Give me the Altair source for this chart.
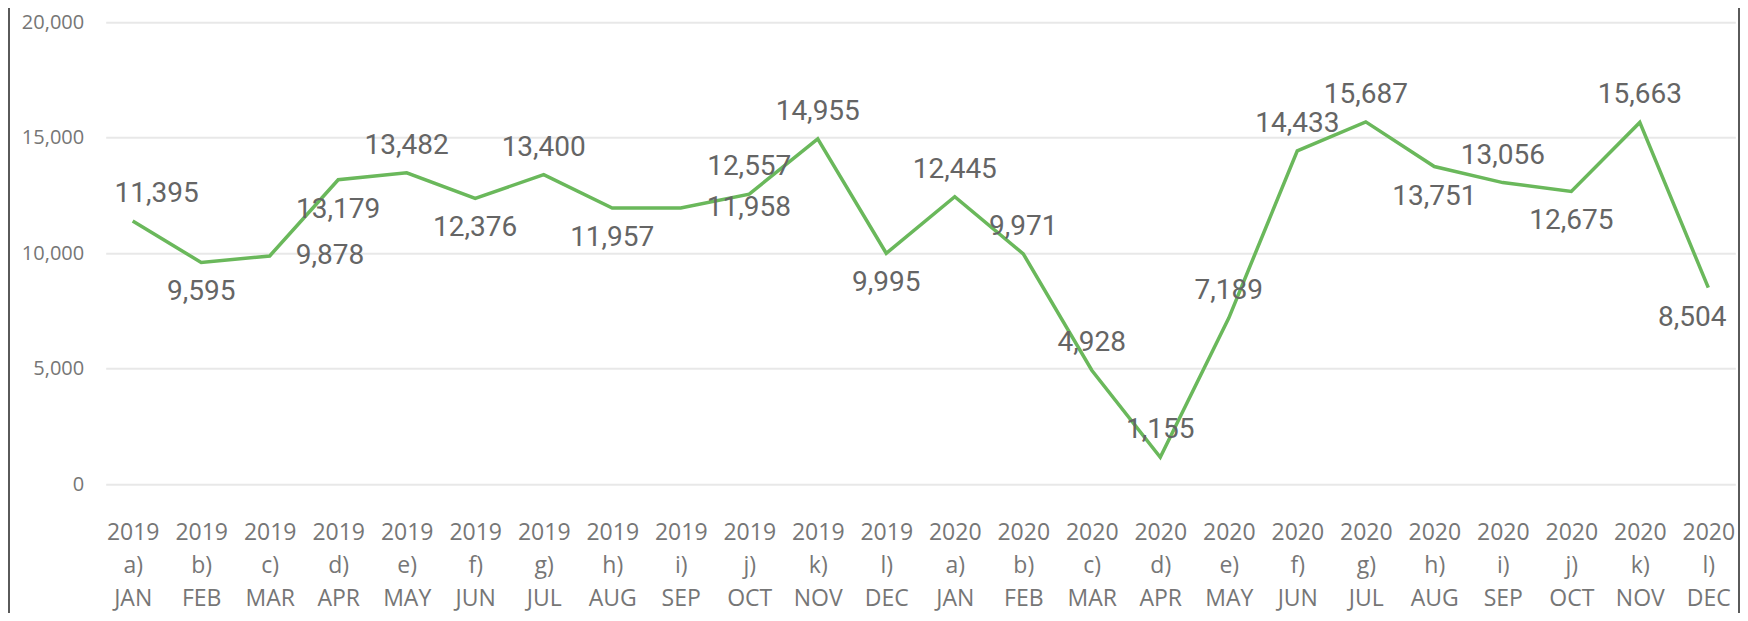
import altair as alt
import pandas as pd

years = ["2019"] * 12 + ["2020"] * 12
letters = ["a)", "b)", "c)", "d)", "e)", "f)", "g)", "h)", "i)", "j)", "k)", "l)"] * 2
months = ["JAN", "FEB", "MAR", "APR", "MAY", "JUN", "JUL", "AUG", "SEP", "OCT", "NOV", "DEC"] * 2
values = [11395, 9595, 9878, 13179, 13482, 12376, 13400, 11957, 11958, 12557, 14955, 9995,
          12445, 9971, 4928, 1155, 7189, 14433, 15687, 13751, 13056, 12675, 15663, 8504]
y_ticks = [0, 5000, 10000, 15000, 20000]
# data-label placement relative to its point
placement = ["above", "below", "right", "below", "above", "below", "above", "below", "right", "above", "above", "below",
             "above", "above", "above", "above", "above", "above", "above", "below", "above", "below", "above", "below"]

df = pd.DataFrame({
    "cat": [f"{y}|{l}|{m}" for y, l, m in zip(years, letters, months)],
    "v": values,
    "pos": placement,
    "i": list(range(len(values))),
})

LABEL_FONT = "Open Sans"
LABEL_COLOR = "#767676"
DATA_FONT = "Roboto"
DATA_COLOR = "#656565"
GREEN = "#6ab85b"

x_enc = alt.X(
    "cat:N", sort=None,
    scale=alt.Scale(type="point", padding=0.394),
    axis=alt.Axis(
        title=None, labelExpr="split(datum.label, '|')", labelAngle=0,
        labelFont=LABEL_FONT, labelFontSize=23, labelColor=LABEL_COLOR,
        labelLineHeight=33, labelBaseline="middle", labelAlign="center",
        labelPadding=48, ticks=False, domain=False, grid=False,
        labelOverlap=False, labelBound=False,
    ),
)
y_enc = alt.Y(
    "v:Q",
    scale=alt.Scale(domain=[0, 20000], nice=False),
    axis=alt.Axis(values=y_ticks, title=None, labelExpr="format(datum.value, ',')"),
)

base = alt.Chart(df).encode(x=x_enc, y=y_enc)

line = base.mark_line(color=GREEN, strokeWidth=3.5)

text_kw = dict(font=DATA_FONT, fontSize=28, color=DATA_COLOR, baseline="middle")
txt = alt.Text("v:Q", format=",")

above = base.transform_filter("datum.pos == 'above' && datum.i != 0").mark_text(dy=-27, **text_kw).encode(text=txt)
above_first = base.transform_filter("datum.pos == 'above' && datum.i == 0").mark_text(dy=-27, dx=24, **text_kw).encode(text=txt)
below = base.transform_filter("datum.pos == 'below' && datum.i != 23").mark_text(dy=30, **text_kw).encode(text=txt)
below_last = base.transform_filter("datum.pos == 'below' && datum.i == 23").mark_text(dy=30, dx=-16, **text_kw).encode(text=txt)
right = base.transform_filter("datum.pos == 'right'").mark_text(dx=26, align="left", **text_kw).encode(text=txt)

frame_df = pd.DataFrame({"k": [0]})
left_border = alt.Chart(frame_df).mark_rule(color="#5a5a5a", strokeWidth=2).encode(
    x=alt.value(-96.7), y=alt.value(-14.3), y2=alt.value(590.7))
right_border = alt.Chart(frame_df).mark_rule(color="#5a5a5a", strokeWidth=2).encode(
    x=alt.value(1633.3), y=alt.value(-14.3), y2=alt.value(590.7))

chart = alt.layer(line, above, above_first, below, below_last, right, left_border, right_border).properties(
    width=1629.6, height=461.7,
    padding={"left": 97.7, "top": 14.3, "right": 4.7, "bottom": 129},
    autosize=alt.AutoSizeParams(type="none"),
    background="white",
).configure_view(stroke=None).configure_axisY(
    domain=False, ticks=False, labelFont=LABEL_FONT, labelFontSize=20,
    labelColor=LABEL_COLOR, labelPadding=22, gridColor="#e8e8e8", gridWidth=2,
)

chart.save("out.html", embed_options={"renderer": "svg", "actions": False})
